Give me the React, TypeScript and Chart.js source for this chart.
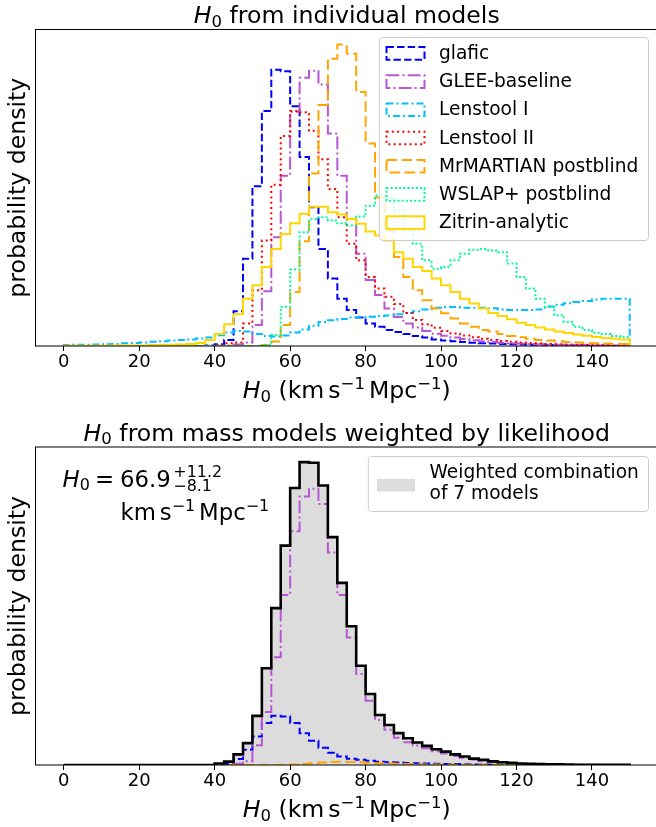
import React, { useEffect, useRef } from 'react';
import { Chart, registerables } from 'chart.js';

Chart.register(...registerables);

// ---------------- data ----------------
const BIN_START = 0;
const BIN_WIDTH = 2.5;
const X_MIN = -7.5;
const X_MAX = 157.5;
const X_TICKS = [0, 20, 40, 60, 80, 100, 120, 140];

const MODEL_LABELS = [
  'glafic',
  'GLEE-baseline',
  'Lenstool I',
  'Lenstool II',
  'MrMARTIAN postblind',
  'WSLAP+ postblind',
  'Zitrin-analytic',
];

const GLAFIC = [0,0,0,0,0, 0,0,0,0,0, 0,0,0,0,0, 0.002,0.006,0.02,0.116,0.291, 0.533,0.784,0.922,0.917,0.8, 0.631,0.463,0.324,0.225,0.158, 0.12,0.095,0.075,0.064,0.053, 0.047,0.04,0.033,0.028,0.022, 0.018,0.016,0.013,0.011,0.009, 0.008,0.007,0.006,0.005,0.004, 0.004,0.003,0.003,0.002,0.002, 0.002,0.001,0.001,0.001,0.001];
const GLEE_BASELINE = [0,0,0,0,0, 0,0,0,0,0, 0,0,0,0,0, 0,0.001,0.002,0.005,0.012, 0.07,0.183,0.363,0.568,0.782, 0.895,0.919,0.873,0.709,0.568, 0.424,0.308,0.22,0.17,0.125, 0.097,0.075,0.062,0.05,0.041, 0.034,0.028,0.023,0.019,0.016, 0.013,0.011,0.009,0.008,0.007, 0.006,0.005,0.004,0.003,0.003, 0.002,0.002,0.002,0.001,0.001];
const LENSTOOL_I = [0.003,0.004,0.004,0.005,0.006, 0.007,0.009,0.01,0.012,0.014, 0.016,0.018,0.02,0.022,0.025, 0.028,0.036,0.045,0.05,0.048, 0.04,0.033,0.032,0.035,0.045, 0.055,0.068,0.08,0.086,0.09, 0.095,0.096,0.098,0.1,0.102, 0.106,0.11,0.116,0.122,0.128, 0.13,0.13,0.128,0.128,0.128, 0.126,0.122,0.12,0.12,0.12, 0.122,0.132,0.138,0.143,0.147, 0.15,0.155,0.158,0.158,0.158];
const LENSTOOL_II = [0,0,0,0,0, 0,0,0,0,0, 0,0,0,0,0, 0,0.002,0.009,0.012,0.075, 0.186,0.352,0.538,0.701,0.784, 0.78,0.718,0.623,0.524,0.43, 0.341,0.286,0.23,0.192,0.164, 0.14,0.11,0.087,0.073,0.061, 0.05,0.042,0.035,0.029,0.024, 0.02,0.017,0.014,0.012,0.01, 0.009,0.007,0.006,0.005,0.004, 0.004,0.003,0.003,0.002,0.002];
const MRMARTIAN = [0,0,0,0,0, 0,0,0,0,0, 0,0,0,0,0, 0,0,0,0,0, 0,0.003,0.015,0.07,0.18, 0.35,0.576,0.804,0.959,1.006, 0.975,0.848,0.676,0.496,0.385, 0.297,0.23,0.186,0.153,0.125, 0.109,0.092,0.075,0.064,0.053, 0.048,0.04,0.033,0.029,0.024, 0.02,0.018,0.016,0.013,0.012, 0.01,0.009,0.008,0.007,0.007];
const WSLAP = [0,0,0,0,0, 0,0,0,0,0, 0,0,0,0,0, 0,0,0,0,0, 0,0.003,0.037,0.131,0.255, 0.38,0.424,0.43,0.419,0.41, 0.402,0.432,0.468,0.502,0.496, 0.452,0.385,0.341,0.286,0.258, 0.264,0.286,0.308,0.321,0.324, 0.319,0.313,0.275,0.23,0.192, 0.158,0.131,0.103,0.081,0.064, 0.053,0.044,0.04,0.033,0.029];
const ZITRIN = [0.001,0.001,0.001,0.001,0.001, 0.002,0.002,0.002,0.002,0.003, 0.003,0.004,0.005,0.007,0.01, 0.02,0.04,0.073,0.106,0.158, 0.203,0.264,0.324,0.374,0.41, 0.441,0.465,0.465,0.446,0.439, 0.424,0.408,0.382,0.369,0.352, 0.313,0.291,0.264,0.25,0.225, 0.203,0.18,0.158,0.142,0.125, 0.11,0.1,0.089,0.078,0.07, 0.062,0.055,0.048,0.043,0.038, 0.034,0.03,0.027,0.024,0.022];

// weighted (bottom panel)
const COMBINED = [0,0,0,0,0, 0,0,0,0,0, 0,0,0,0,0, 0,0.005,0.011,0.035,0.072, 0.162,0.319,0.517,0.723,0.913, 0.998,0.996,0.921,0.751,0.6, 0.457,0.327,0.234,0.165,0.132, 0.105,0.088,0.074,0.063,0.052, 0.044,0.035,0.028,0.021,0.017, 0.012,0.009,0.007,0.005,0.004, 0.003,0.0025,0.002,0.0015,0.001, 0.001,0.001,0.0005,0.0005,0.0005];
const W_GLAFIC = [0,0,0,0,0, 0,0,0,0,0, 0,0,0,0,0, 0,0,0.004,0.02,0.05, 0.094,0.138,0.162,0.16,0.138, 0.105,0.08,0.057,0.04,0.028, 0.021,0.017,0.014,0.011,0.009, 0.008,0.007,0.006,0.005,0.004, 0.0035,0.003,0.0025,0.002,0.0015, 0.0012,0.001,0.001,0.001,0.0008, 0.0007,0.0006,0.0005,0.0004,0.0004, 0.0003,0.0003,0.0002,0.0002,0.0002];
const W_GLEE = [0,0,0,0,0, 0,0,0,0,0, 0,0,0,0,0, 0,0,0,0.004,0.012, 0.065,0.175,0.355,0.56,0.77, 0.885,0.91,0.86,0.7,0.56, 0.42,0.3,0.212,0.148,0.116, 0.09,0.075,0.064,0.055,0.045, 0.038,0.03,0.024,0.018,0.014, 0.01,0.0075,0.0055,0.004,0.0032, 0.0025,0.002,0.0016,0.0012,0.001, 0.0008,0.0006,0.0004,0.0003,0.0003];
const W_MRMARTIAN = [0,0,0,0,0, 0,0,0,0,0, 0,0,0,0,0, 0,0,0,0,0, 0,0,0,0.001,0.002, 0.004,0.006,0.008,0.01,0.011, 0.01,0.009,0.007,0.006,0.005, 0.004,0.003,0.0025,0.002,0.0018, 0.0015,0.0012,0.001,0.001,0.0008, 0.0007,0.0006,0.0005,0.0005,0.0004, 0.0003,0.0003,0.0003,0.0003,0.0003, 0.0003,0.0003,0.0003,0.0003,0.0003];

const COMBINED_LABEL = ['Weighted combination', 'of 7 models'];
const H0_MEDIAN = '66.9';
const H0_PLUS = '+11.2';
const H0_MINUS = '\u22128.1';

// ---------------- styles ----------------
const FAMILY = '"DejaVu Sans", "Liberation Sans", sans-serif';
const MODEL_COLORS = ['#0000ff', '#ba55d3', '#00bfff', '#ff0000', '#ffa500', '#00fa9a', '#ffd700'];
const MODEL_DASHES: number[][] = [[7.4, 3.2], [12.8, 3.2, 2, 3.2], [7, 3, 2, 3], [2, 3.3], [10.5, 4.5], [2, 2.2], []];
const LINE_W = 2;
const FILL_GRAY = '#dcdcdc';

const CANVAS_W = 690;
const TOP_H = 412;
const BOT_H = 415;
const LABEL_FS = 23.6;
const TICK_FS = 18;
const LEGEND_FS = 18.6;
const ANNOT_FS = 22.8;

type Seg = { t: string; size: number; it?: boolean; dy?: number; dx?: number };

function font(size: number, it?: boolean) {
  return `${it ? 'italic ' : ''}${size}px ${FAMILY}`;
}

function drawRun(ctx: CanvasRenderingContext2D, segs: Seg[], x: number, y: number, align: 'left' | 'center' = 'left') {
  ctx.save();
  ctx.fillStyle = '#000';
  ctx.textBaseline = 'alphabetic';
  ctx.textAlign = 'left';
  const widths = segs.map((s) => {
    ctx.font = font(s.size, s.it);
    return ctx.measureText(s.t).width;
  });
  const total = segs.reduce((a, s, i) => a + widths[i] + (s.dx || 0), 0);
  let cx = align === 'center' ? x - total / 2 : x;
  segs.forEach((s, i) => {
    cx += s.dx || 0;
    ctx.font = font(s.size, s.it);
    ctx.fillText(s.t, cx, y + (s.dy || 0));
    cx += widths[i];
  });
  ctx.restore();
  return cx;
}

function h0Label(fs: number): Seg[] {
  return [
    { t: 'H', size: fs, it: true },
    { t: '0', size: fs * 0.7, dy: fs * 0.15 },
    { t: ' (km', size: fs },
    { t: 's', size: fs, dx: fs * 0.17 },
    { t: '\u22121', size: fs * 0.7, dy: -fs * 0.38 },
    { t: 'Mpc', size: fs, dx: fs * 0.17 },
    { t: '\u22121', size: fs * 0.7, dy: -fs * 0.38 },
    { t: ')', size: fs },
  ];
}

function roundRectPath(ctx: CanvasRenderingContext2D, x0: number, y0: number, x1: number, y1: number, r: number) {
  ctx.beginPath();
  ctx.moveTo(x0 + r, y0);
  ctx.lineTo(x1 - r, y0);
  ctx.arcTo(x1, y0, x1, y0 + r, r);
  ctx.lineTo(x1, y1 - r);
  ctx.arcTo(x1, y1, x1 - r, y1, r);
  ctx.lineTo(x0 + r, y1);
  ctx.arcTo(x0, y1, x0, y1 - r, r);
  ctx.lineTo(x0, y0 + r);
  ctx.arcTo(x0, y0, x0 + r, y0, r);
  ctx.closePath();
}

function legendFrame(ctx: CanvasRenderingContext2D, x0: number, y0: number, x1: number, y1: number) {
  ctx.save();
  roundRectPath(ctx, x0, y0, x1, y1, 3.5);
  ctx.fillStyle = 'rgba(255,255,255,0.8)';
  ctx.fill();
  ctx.strokeStyle = '#cccccc';
  ctx.lineWidth = 1;
  ctx.stroke();
  ctx.restore();
}

function stepPoints(values: number[]) {
  const pts = [{ x: BIN_START, y: 0 }];
  values.forEach((v, i) => pts.push({ x: BIN_START + (i + 1) * BIN_WIDTH, y: v }));
  pts.push({ x: BIN_START + values.length * BIN_WIDTH, y: 0 });
  return pts;
}

function xScale(height: number) {
  return {
    type: 'linear',
    min: X_MIN,
    max: X_MAX,
    afterBuildTicks: (s: any) => {
      s.ticks = X_TICKS.map((v) => ({ value: v }));
    },
    afterFit: (s: any) => {
      s.height = height;
    },
    ticks: {
      font: { family: FAMILY, size: TICK_FS },
      color: '#000',
      padding: 1,
      maxRotation: 0,
      minRotation: 0,
      autoSkip: false,
      callback: (v: any) => String(v),
    },
    grid: { display: true, drawOnChartArea: false, drawTicks: true, tickLength: 5, tickColor: '#000', tickWidth: 1 },
    border: { display: false },
  };
}

function decorPlugin(opts: {
  title: Seg[];
  titleY: number;
  xlabelY: number;
  extra: (ctx: CanvasRenderingContext2D, area: any) => void;
}) {
  return {
    id: 'decor',
    afterDatasetsDraw(chart: any) {
      const { ctx, chartArea: a } = chart;
      ctx.save();
      ctx.strokeStyle = '#000';
      ctx.lineWidth = 1;
      ctx.setLineDash([]);
      ctx.strokeRect(a.left, a.top, a.right - a.left, a.bottom - a.top);
      ctx.restore();
    },
    afterDraw(chart: any) {
      const { ctx, chartArea: a } = chart;
      const cx = (a.left + a.right) / 2;
      drawRun(ctx, opts.title, cx, opts.titleY, 'center');
      drawRun(ctx, h0Label(LABEL_FS), cx, opts.xlabelY, 'center');
      ctx.save();
      ctx.translate(24.5, (a.top + a.bottom) / 2);
      ctx.rotate(-Math.PI / 2);
      ctx.font = font(LABEL_FS);
      ctx.fillStyle = '#000';
      ctx.textAlign = 'center';
      ctx.textBaseline = 'alphabetic';
      ctx.fillText('probability density', 0, 0);
      ctx.restore();
      opts.extra(ctx, a);
    },
  };
}

const MODEL_SERIES = [GLAFIC, GLEE_BASELINE, LENSTOOL_I, LENSTOOL_II, MRMARTIAN, WSLAP, ZITRIN];

export default function App() {
  const topRef = useRef<HTMLCanvasElement>(null);
  const botRef = useRef<HTMLCanvasElement>(null);

  useEffect(() => {
    Chart.defaults.font.family = FAMILY;
    const n = MODEL_SERIES.length;
    const topMax = Math.max(...MODEL_SERIES.map((s) => Math.max(...s)));
    const topChart = new Chart(topRef.current as HTMLCanvasElement, {
      type: 'line',
      data: {
        datasets: MODEL_SERIES.map((vals, i) => ({
          label: MODEL_LABELS[i],
          data: stepPoints(vals),
          borderColor: MODEL_COLORS[i],
          borderWidth: LINE_W,
          borderDash: MODEL_DASHES[i],
          stepped: 'after',
          pointRadius: 0,
          fill: false,
          order: n - i,
        })),
      },
      options: {
        animation: false,
        responsive: false,
        devicePixelRatio: 1,
        events: [],
        layout: { padding: { left: 35.5, top: 29.5, right: CANVAS_W - 658, bottom: 0 } },
        plugins: { legend: { display: false }, tooltip: { enabled: false }, title: { display: false } },
        scales: {
          x: xScale(TOP_H - 346) as any,
          y: { type: 'linear', display: false, min: 0, max: topMax * 1.05 },
        },
      } as any,
      plugins: [
        decorPlugin({
          title: [
            { t: 'H', size: LABEL_FS, it: true },
            { t: '0', size: LABEL_FS * 0.7, dy: LABEL_FS * 0.15 },
            { t: ' from individual models', size: LABEL_FS },
          ],
          titleY: 23.2,
          xlabelY: 398,
          extra: (ctx) => {
            legendFrame(ctx, 379.3, 37.5, 648.5, 240.5);
            MODEL_LABELS.forEach((lab, i) => {
              const cy = 53.4 + i * 28.2;
              ctx.save();
              ctx.strokeStyle = MODEL_COLORS[i];
              ctx.lineWidth = LINE_W;
              ctx.setLineDash(MODEL_DASHES[i]);
              ctx.strokeRect(386.5, cy - 6.3, 38, 12.6);
              ctx.restore();
              drawRun(ctx, [{ t: lab, size: LEGEND_FS }], 439, cy + 0.3 * LEGEND_FS);
            });
          },
        }) as any,
      ],
    });

    const botMax = Math.max(...COMBINED);
    const botChart = new Chart(botRef.current as HTMLCanvasElement, {
      type: 'line',
      data: {
        datasets: [
          { label: COMBINED_LABEL.join(' '), data: stepPoints(COMBINED), borderWidth: 0, backgroundColor: FILL_GRAY, fill: 'origin', stepped: 'after', pointRadius: 0, order: 10 },
          { label: MODEL_LABELS[0], data: stepPoints(W_GLAFIC), borderColor: MODEL_COLORS[0], borderWidth: LINE_W, borderDash: MODEL_DASHES[0], stepped: 'after', pointRadius: 0, fill: false, order: 9 },
          { label: MODEL_LABELS[1], data: stepPoints(W_GLEE), borderColor: MODEL_COLORS[1], borderWidth: LINE_W, borderDash: MODEL_DASHES[1], stepped: 'after', pointRadius: 0, fill: false, order: 8 },
          { label: MODEL_LABELS[4], data: stepPoints(W_MRMARTIAN), borderColor: MODEL_COLORS[4], borderWidth: LINE_W, borderDash: MODEL_DASHES[4], stepped: 'after', pointRadius: 0, fill: false, order: 7 },
          { label: 'combined outline', data: stepPoints(COMBINED), borderColor: '#000', borderWidth: 2.6, stepped: 'after', pointRadius: 0, fill: false, order: 0 },
        ],
      },
      options: {
        animation: false,
        responsive: false,
        devicePixelRatio: 1,
        events: [],
        layout: { padding: { left: 35.5, top: 35, right: CANVAS_W - 658, bottom: 0 } },
        plugins: { legend: { display: false }, tooltip: { enabled: false }, title: { display: false } },
        scales: {
          x: xScale(BOT_H - 353) as any,
          y: { type: 'linear', display: false, min: 0, max: botMax * 1.05 },
        },
      } as any,
      plugins: [
        decorPlugin({
          title: [
            { t: 'H', size: LABEL_FS, it: true },
            { t: '0', size: LABEL_FS * 0.7, dy: LABEL_FS * 0.15 },
            { t: ' from mass models weighted by likelihood', size: LABEL_FS },
          ],
          titleY: 28.7,
          xlabelY: 405,
          extra: (ctx) => {
            legendFrame(ctx, 368.3, 44.5, 648.5, 99.5);
            ctx.save();
            ctx.fillStyle = FILL_GRAY;
            ctx.fillRect(377, 66.8, 38, 12.6);
            ctx.restore();
            COMBINED_LABEL.forEach((line, i) => {
              drawRun(ctx, [{ t: line, size: LEGEND_FS }], 429.5, 65.9 + i * 20.8);
            });
            const fs = ANNOT_FS;
            const base = 74.7;
            drawRun(
              ctx,
              [
                { t: 'H', size: fs, it: true },
                { t: '0', size: fs * 0.7, dy: fs * 0.15 },
              ],
              62.5,
              base
            );
            drawRun(ctx, [{ t: '=', size: fs }], 95, base);
            const endX = drawRun(ctx, [{ t: H0_MEDIAN, size: fs }], 120, base);
            drawRun(ctx, [{ t: H0_PLUS, size: fs * 0.7, dy: -fs * 0.44 }], endX + 2.5, base);
            drawRun(ctx, [{ t: H0_MINUS, size: fs * 0.7, dy: fs * 0.19 }], endX + 2.5, base);
            drawRun(
              ctx,
              [
                { t: 'km', size: fs },
                { t: 's', size: fs, dx: fs * 0.17 },
                { t: '\u22121', size: fs * 0.7, dy: -fs * 0.38 },
                { t: 'Mpc', size: fs, dx: fs * 0.17 },
                { t: '\u22121', size: fs * 0.7, dy: -fs * 0.38 },
              ],
              120.5,
              108
            );
          },
        }) as any,
      ],
    });

    return () => {
      topChart.destroy();
      botChart.destroy();
    };
  }, []);

  return (
    <div style={{ position: 'fixed', left: 0, top: 0, width: 656, height: 827, overflow: 'hidden', background: '#fff' }}>
      <canvas ref={topRef} width={CANVAS_W} height={TOP_H} style={{ position: 'absolute', left: 0, top: 0, display: 'block' }} />
      <canvas ref={botRef} width={CANVAS_W} height={BOT_H} style={{ position: 'absolute', left: 0, top: TOP_H, display: 'block' }} />
    </div>
  );
}
